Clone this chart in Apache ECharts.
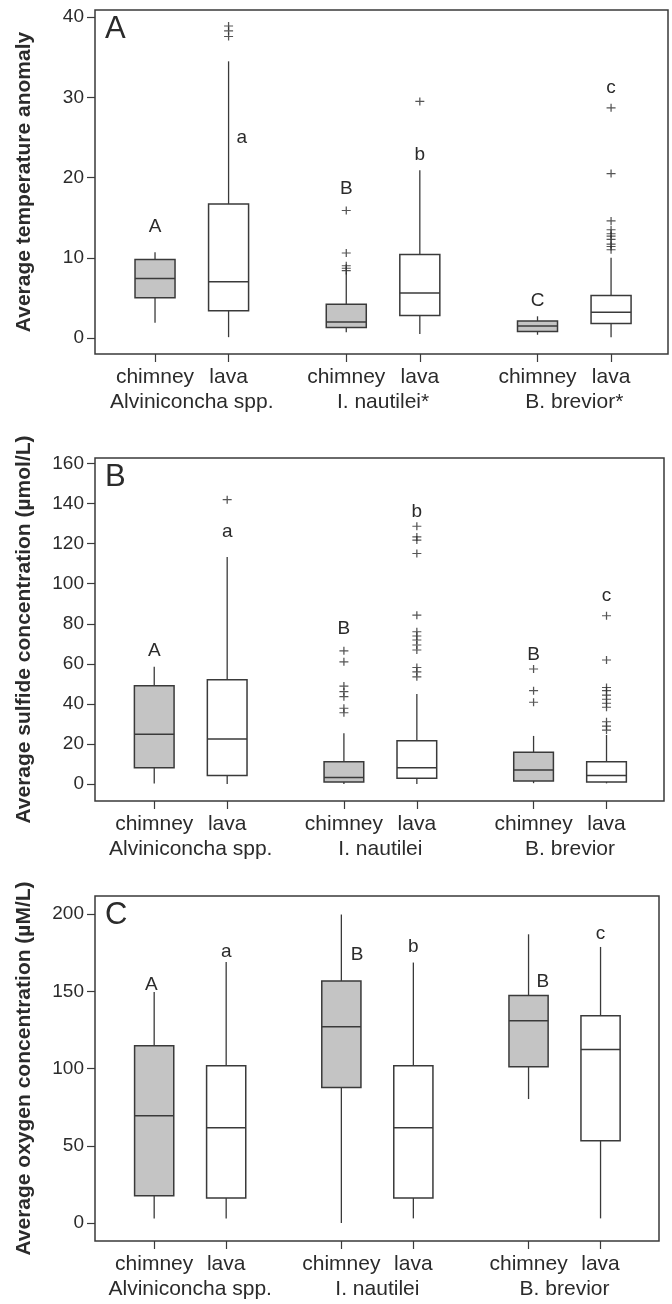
<!DOCTYPE html>
<html>
<head>
<meta charset="utf-8">
<script src="https://cdn.jsdelivr.net/npm/echarts@6/dist/echarts.min.js"></script>
<style>
  html, body { margin: 0; padding: 0; background: #fff; }
  #chart { width: 672px; height: 1304px; }
</style>
</head>
<body>
<div id="chart"></div>
<script>
// x positions of the six boxes (chimney / lava for each species)
const sitePos = [0, 5, 13, 18, 26, 31];
const siteNames = ['chimney', 'lava', 'chimney', 'lava', 'chimney', 'lava'];
const groupPos = [2.5, 15.5, 28.5];
const groupNamesA = ['Alviniconcha spp.', 'I. nautilei*', 'B. brevior*'];
const groupNamesBC = ['Alviniconcha spp.', 'I. nautilei', 'B. brevior'];

// [low whisker, Q1, median, Q3, high whisker]
const tempStats = [
    [1.9, 5.0, 7.4, 9.8, 10.7],
    [0.1, 3.4, 7.0, 16.7, 34.5],
    [0.7, 1.3, 2.0, 4.2, 8.2],
    [0.5, 2.8, 5.6, 10.4, 20.9],
    [0.4, 0.8, 1.5, 2.1, 2.7],
    [0.1, 1.8, 3.2, 5.3, 10.0]
];
// [box index, value]
const tempOutliers = [
    [1, 37.6], [1, 38.3], [1, 38.9],
    [2, 8.4], [2, 8.7], [2, 9.0], [2, 10.6], [2, 15.9],
    [3, 29.5],
    [5, 11.0], [5, 11.4], [5, 11.7], [5, 12.3], [5, 12.7], [5, 13.0], [5, 13.5], [5, 14.6], [5, 20.5], [5, 28.7]
];
const tempLetters = ['A', 'a', 'B', 'b', 'C', 'c'];
const tempLetterPos = [0, 5.9, 13, 18, 26, 31];
const tempLetterVal = [13.9, 25.0, 18.6, 22.8, 4.7, 31.2];

const sulfideStats = [
    [0.3, 8.1, 24.8, 49.1, 58.5],
    [0, 4.2, 22.5, 52.0, 113.4],
    [0, 1.0, 3.2, 11.1, 25.3],
    [0, 2.8, 8.1, 21.6, 44.9],
    [0.4, 1.5, 7.0, 15.8, 24.0],
    [0.3, 1.0, 4.2, 11.1, 24.5]
];
const sulfideOutliers = [
    [1, 142],
    [2, 35.6], [2, 37.8], [2, 43.6], [2, 46.1], [2, 48.9], [2, 61.0], [2, 66.5],
    [3, 53.5], [3, 56.0], [3, 58.2], [3, 66.9], [3, 69.4], [3, 71.9], [3, 73.9], [3, 76.0], [3, 84.3],
    [3, 115.1], [3, 121.8], [3, 123.4], [3, 128.7],
    [4, 40.8], [4, 46.6], [4, 57.4],
    [5, 26.9], [5, 28.9], [5, 31.1], [5, 38.3], [5, 40.3], [5, 42.3], [5, 44.4], [5, 46.6], [5, 48.2], [5, 61.9], [5, 84.0]
];
const sulfideLetters = ['A', 'a', 'B', 'b', 'B', 'c'];
const sulfideLetterPos = [0, 5, 13, 18, 26, 31];
const sulfideLetterVal = [66.5, 126, 77.7, 136, 64.4, 94];

const oxygenStats = [
    [3.0, 17.7, 69.5, 114.8, 149.7],
    [3.0, 16.2, 61.7, 101.8, 169.1],
    [0, 87.8, 127.1, 156.7, 199.8],
    [3.0, 16.2, 61.7, 101.8, 168.7],
    [80.3, 101.2, 131.0, 147.4, 187.0],
    [3.0, 53.3, 112.4, 134.2, 178.8]
];
const oxygenOutliers = [];
const oxygenLetters = ['A', 'a', 'B', 'b', 'B', 'c'];
const oxygenLetterPos = [-0.2, 5, 14.1, 18, 27, 31];
const oxygenLetterVal = [154, 176, 173.5, 178.8, 156.2, 187.5];

const yTicksA = [0, 10, 20, 30, 40];
const yTicksB = [0, 20, 40, 60, 80, 100, 120, 140, 160];
const yTicksC = [0, 50, 100, 150, 200];

const FONT = "'Liberation Sans', Arial, sans-serif";
const INK = '#2b2b2b';
const BOX_W = 2.72; // in x units

const panels = [
    {
        letter: 'A', name: 'Average temperature anomaly', groups: groupNamesA,
        stats: tempStats, outliers: tempOutliers,
        letters: tempLetters, letterPos: tempLetterPos, letterVal: tempLetterVal,
        yTicks: yTicksA, yMin: -2, yMax: 40.9, xMin: -4.08, xMax: 34.87,
        grid: { left: 95, top: 10, width: 573, height: 344 }
    },
    {
        letter: 'B', name: 'Average sulfide concentration (µmol/L)', groups: groupNamesBC,
        stats: sulfideStats, outliers: sulfideOutliers,
        letters: sulfideLetters, letterPos: sulfideLetterPos, letterVal: sulfideLetterVal,
        yTicks: yTicksB, yMin: -8.5, yMax: 162.8, xMin: -4.06, xMax: 34.94,
        grid: { left: 95, top: 458, width: 569, height: 343 }
    },
    {
        letter: 'C', name: 'Average oxygen concentration (µM/L)', groups: groupNamesBC,
        stats: oxygenStats, outliers: oxygenOutliers,
        letters: oxygenLetters, letterPos: oxygenLetterPos, letterVal: oxygenLetterVal,
        yTicks: yTicksC, yMin: -11.65, yMax: 211.8, xMin: -4.11, xMax: 35.06,
        grid: { left: 95, top: 896, width: 564, height: 345 }
    }
];

function findIdx(arr, v) {
    return arr.findIndex(p => Math.abs(p - v) < 0.01);
}

// one box with whiskers
function renderBox(params, api) {
    const x = api.value(0);
    const half = api.size([BOX_W, 0])[0] / 2;
    const pLow = api.coord([x, api.value(1)]);
    const pQ1 = api.coord([x, api.value(2)]);
    const pMed = api.coord([x, api.value(3)]);
    const pQ3 = api.coord([x, api.value(4)]);
    const pHigh = api.coord([x, api.value(5)]);
    const filled = api.value(6) === 1;
    const line = { stroke: '#3a3a3a', lineWidth: 1.3 };
    return {
        type: 'group',
        children: [
            { type: 'line', shape: { x1: pLow[0], y1: pLow[1], x2: pQ1[0], y2: pQ1[1] }, style: line },
            { type: 'line', shape: { x1: pQ3[0], y1: pQ3[1], x2: pHigh[0], y2: pHigh[1] }, style: line },
            {
                type: 'rect',
                shape: { x: pQ3[0] - half, y: pQ3[1], width: half * 2, height: pQ1[1] - pQ3[1] },
                style: { fill: filled ? '#c4c4c4' : '#ffffff', stroke: '#3a3a3a', lineWidth: 1.5 }
            },
            { type: 'line', shape: { x1: pMed[0] - half, y1: pMed[1], x2: pMed[0] + half, y2: pMed[1] }, style: { stroke: '#3a3a3a', lineWidth: 1.5 } }
        ]
    };
}

function makeLetterRenderer(letters) {
    return function (params, api) {
        const p = api.coord([api.value(0), api.value(1)]);
        return {
            type: 'text',
            x: p[0], y: p[1],
            style: {
                text: letters[params.dataIndex],
                fontSize: 19, fontFamily: FONT, fill: INK,
                align: 'center', verticalAlign: 'middle'
            }
        };
    };
}

const option = {
    animation: false,
    backgroundColor: '#fff',
    title: [], grid: [], xAxis: [], yAxis: [], series: []
};

panels.forEach((pn, i) => {
    option.grid.push(Object.assign({ show: true, borderColor: '#3a3a3a', borderWidth: 1.5, backgroundColor: 'transparent' }, pn.grid));

    option.title.push({
        text: pn.letter, left: pn.grid.left + 10, top: pn.grid.top + 4, padding: 0,
        textStyle: { fontSize: 31, fontWeight: 'normal', fontFamily: FONT, color: INK }
    });

    // site labels (chimney / lava)
    option.xAxis.push({
        type: 'value', gridIndex: i, position: 'bottom', min: pn.xMin, max: pn.xMax,
        axisLine: { show: false, onZero: false }, splitLine: { show: false },
        axisTick: { show: true, customValues: sitePos, length: 8, lineStyle: { color: '#3a3a3a', width: 1.2 } },
        axisLabel: {
            customValues: sitePos, margin: 13, fontSize: 21, fontFamily: FONT, color: INK,
            formatter: v => siteNames[findIdx(sitePos, v)] || ''
        }
    });
    // species labels
    option.xAxis.push({
        type: 'value', gridIndex: i, position: 'bottom', min: pn.xMin, max: pn.xMax,
        axisLine: { show: false, onZero: false }, splitLine: { show: false }, axisTick: { show: false },
        axisLabel: {
            customValues: groupPos, margin: 38, fontSize: 21, fontFamily: FONT, color: INK,
            formatter: v => pn.groups[findIdx(groupPos, v)] || ''
        }
    });

    option.yAxis.push({
        type: 'value', gridIndex: i, position: 'left', min: pn.yMin, max: pn.yMax,
        axisLine: { show: false, onZero: false }, splitLine: { show: false },
        axisTick: { show: true, customValues: pn.yTicks, length: 8, lineStyle: { color: '#3a3a3a', width: 1.2 } },
        axisLabel: { customValues: pn.yTicks, margin: 11, fontSize: 19, fontFamily: FONT, color: INK },
        name: pn.name, nameLocation: 'middle', nameGap: 60,
        nameTextStyle: { fontSize: 21, fontWeight: 'bold', fontFamily: FONT, color: INK }
    });

    const boxData = pn.stats.map((s, k) => [sitePos[k]].concat(s, [k % 2 === 0 ? 1 : 0]));
    option.series.push({
        type: 'custom', xAxisIndex: i * 2, yAxisIndex: i, silent: true,
        renderItem: renderBox,
        encode: { x: 0, y: [1, 2, 3, 4, 5] },
        data: boxData
    });

    option.series.push({
        type: 'scatter', xAxisIndex: i * 2, yAxisIndex: i, silent: true,
        symbol: 'path://M0,4.3H10V5.7H0Z M4.3,0H5.7V10H4.3Z',
        symbolSize: [9, 8],
        itemStyle: { color: '#2b2b2b' },
        data: pn.outliers.map(o => [sitePos[o[0]], o[1]])
    });

    option.series.push({
        type: 'custom', xAxisIndex: i * 2, yAxisIndex: i, silent: true,
        renderItem: makeLetterRenderer(pn.letters),
        encode: { x: 0, y: 1 },
        data: pn.letterPos.map((x, k) => [x, pn.letterVal[k]])
    });
});

echarts.init(document.getElementById('chart')).setOption(option);
</script>
</body>
</html>
